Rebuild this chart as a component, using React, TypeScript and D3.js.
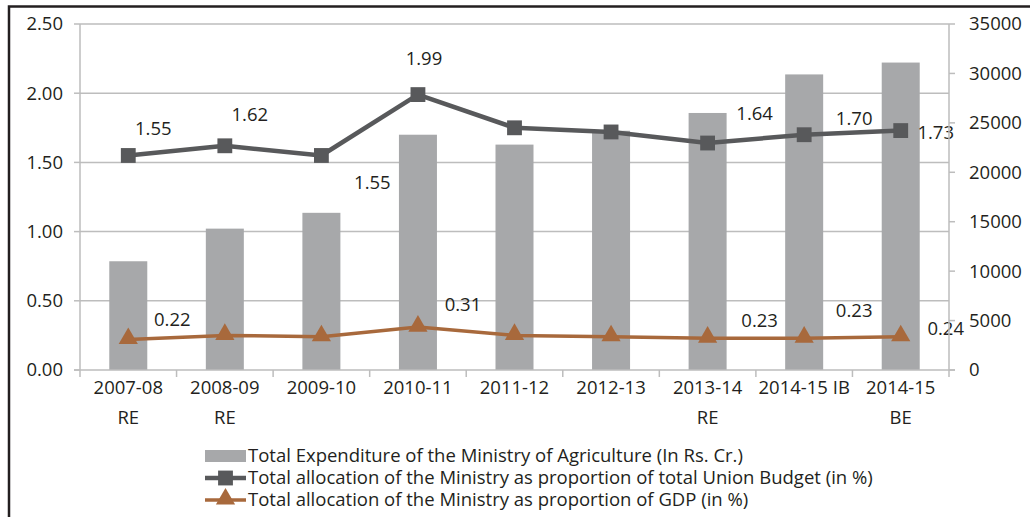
import React, { useEffect, useRef } from 'react';
import * as d3 from 'd3';

const categories = ['2007-08\nRE', '2008-09\nRE', '2009-10', '2010-11', '2011-12', '2012-13', '2013-14\nRE', '2014-15 IB', '2014-15\nBE'];
const expenditure = [11000, 14300, 15900, 23800, 22800, 24200, 26000, 29900, 31100];
const unionShare = [1.55, 1.62, 1.55, 1.99, 1.75, 1.72, 1.64, 1.70, 1.73];
const gdpShare = [0.22, 0.25, 0.24, 0.31, 0.25, 0.24, 0.23, 0.23, 0.24];
const leftTicks = [0, 0.5, 1, 1.5, 2, 2.5];
const rightTicks = [0, 5000, 10000, 15000, 20000, 25000, 30000, 35000];
const legendNames = [
  'Total Expenditure of the Ministry of Agriculture (In Rs. Cr.)',
  'Total allocation of the Ministry as proportion of total Union Budget (in %)',
  'Total allocation of the Ministry as proportion of GDP (in %)',
];

// data labels: index, offset from the point (dx, dy)
const unionLabels: [number, number, number][] = [[0, 25, -27], [1, 25, -31], [2, 51, 27], [3, 6, -36], [6, 47, -29], [7, 50, -16], [8, 35, 2]];
const gdpLabels: [number, number, number][] = [[0, 44, -20], [3, 45, -23], [6, 52, -18], [7, 50, -28], [8, 45, -8]];

const W = 1030, H = 517;
const FONT = '"Open Sans", sans-serif';
const FS = 18.5;
const BAR = '#a7a8aa', DARK = '#58595b', BROWN = '#a8693c', GRID = '#bdbdbd';

export default function App() {
  const ref = useRef<SVGSVGElement>(null);

  useEffect(() => {
    const svg = d3.select(ref.current);
    svg.selectAll('*').remove();
    const m = { left: 80, right: 949, top: 24, bottom: 370 };

    const x = d3.scaleBand<number>().domain(d3.range(categories.length)).range([m.left, m.right]);
    const yL = d3.scaleLinear().domain([0, 2.5]).range([m.bottom, m.top]);
    const yR = d3.scaleLinear().domain([0, 35000]).range([m.bottom, m.top]);
    const cx = (i: number) => x(i)! + x.bandwidth() / 2;

    svg.append('rect').attr('width', W).attr('height', H).attr('fill', '#fff');
    // frame
    svg.append('path').attr('d', `M9,${H} V6.5 H${W}`).attr('fill', 'none').attr('stroke', '#231f20').attr('stroke-width', 2.5);

    // gridlines
    svg.append('g').selectAll('line').data(leftTicks.slice(1)).join('line')
      .attr('x1', m.left).attr('x2', m.right).attr('y1', d => yL(d)).attr('y2', d => yL(d))
      .attr('stroke', GRID).attr('stroke-width', 1.5);

    // bars
    svg.append('g').selectAll('rect').data(expenditure).join('rect')
      .attr('x', (_, i) => cx(i) - 19).attr('width', 38)
      .attr('y', d => yR(d)).attr('height', d => yR(0) - yR(d)).attr('fill', BAR);

    // axes
    const ax = svg.append('g').attr('stroke', GRID).attr('stroke-width', 1.5);
    ax.append('line').attr('x1', m.left).attr('x2', m.left).attr('y1', m.top).attr('y2', m.bottom);
    ax.append('line').attr('x1', m.left - 6).attr('x2', m.right + 6).attr('y1', m.bottom).attr('y2', m.bottom);
    ax.selectAll('.tl').data(leftTicks).join('line').attr('x1', m.left - 6).attr('x2', m.left).attr('y1', d => yL(d)).attr('y2', d => yL(d));
    ax.selectAll('.tr').data(rightTicks).join('line').attr('class', 'tr').attr('x1', m.right).attr('x2', m.right + 6).attr('y1', d => yR(d)).attr('y2', d => yR(d));
    ax.selectAll('.tx').data(d3.range(categories.length + 1)).join('line').attr('class', 'tx')
      .attr('x1', i => m.left + i * x.step()).attr('x2', i => m.left + i * x.step()).attr('y1', m.bottom).attr('y2', m.bottom + 7);

    const txt = svg.append('g').attr('font-family', FONT).attr('font-size', FS).attr('fill', '#231f20');
    txt.selectAll('.yl').data(leftTicks).join('text').attr('x', 63).attr('y', d => yL(d)).attr('dy', '0.35em')
      .attr('text-anchor', 'end').text(d => d3.format('.2f')(d));
    txt.selectAll('.yr').data(rightTicks).join('text').attr('class', 'yr').attr('x', 969).attr('y', d => yR(d)).attr('dy', '0.35em')
      .text(d => String(d));
    categories.forEach((c, i) => {
      c.split('\n').forEach((line, j) => {
        txt.append('text').attr('x', cx(i)).attr('y', 388 + j * 30).attr('dy', '0.35em').attr('text-anchor', 'middle').text(line);
      });
    });

    // lines
    const drawLine = (vals: number[], color: string, width: number) =>
      svg.append('path').datum(vals)
        .attr('d', d3.line<number>().x((_, i) => cx(i)).y(d => yL(d)))
        .attr('fill', 'none').attr('stroke', color).attr('stroke-width', width).attr('stroke-linejoin', 'round');
    drawLine(unionShare, DARK, 4.5);
    drawLine(gdpShare, BROWN, 3.5);

    const sq = d3.symbol().type(d3.symbolSquare).size(220);
    const tri = d3.symbol().type(d3.symbolTriangle).size(160);
    svg.append('g').selectAll('path').data(unionShare).join('path')
      .attr('d', sq).attr('transform', (d, i) => `translate(${cx(i)},${yL(d)})`).attr('fill', DARK);
    svg.append('g').selectAll('path').data(gdpShare).join('path')
      .attr('d', tri).attr('transform', (d, i) => `translate(${cx(i)},${yL(d) - 1})`).attr('fill', BROWN);

    // data labels
    const lbl = svg.append('g').attr('font-family', FONT).attr('font-size', FS).attr('fill', '#231f20').attr('text-anchor', 'middle');
    unionLabels.forEach(([i, dx, dy]) => {
      lbl.append('text').attr('x', cx(i) + dx).attr('y', yL(unionShare[i]) + dy).attr('dy', '0.35em').text(d3.format('.2f')(unionShare[i]));
    });
    gdpLabels.forEach(([i, dx, dy]) => {
      lbl.append('text').attr('x', cx(i) + dx).attr('y', yL(gdpShare[i]) + dy).attr('dy', '0.35em').text(d3.format('.2f')(gdpShare[i]));
    });
    // right axis line drawn over labels
    svg.append('line').attr('x1', m.right).attr('x2', m.right).attr('y1', m.top).attr('y2', m.bottom).attr('stroke', GRID).attr('stroke-width', 1.5);

    // legend
    const lg = svg.append('g').attr('font-family', FONT).attr('font-size', FS).attr('fill', '#231f20');
    const rowY = [456, 478, 500];
    lg.append('rect').attr('x', 205).attr('y', rowY[0] - 6).attr('width', 41).attr('height', 12).attr('fill', BAR);
    lg.append('line').attr('x1', 205).attr('x2', 246).attr('y1', rowY[1]).attr('y2', rowY[1]).attr('stroke', DARK).attr('stroke-width', 4.5);
    lg.append('path').attr('d', sq).attr('transform', `translate(225.5,${rowY[1]})`).attr('fill', DARK);
    lg.append('line').attr('x1', 205).attr('x2', 246).attr('y1', rowY[2]).attr('y2', rowY[2]).attr('stroke', BROWN).attr('stroke-width', 3.5);
    lg.append('path').attr('d', tri).attr('transform', `translate(225.5,${rowY[2] - 1})`).attr('fill', BROWN);
    legendNames.forEach((n, i) => {
      lg.append('text').attr('x', 248).attr('y', rowY[i]).attr('dy', '0.35em').text(n);
    });
  }, []);

  return (
    <svg ref={ref} width={W} height={H} style={{ position: 'absolute', left: 0, top: 0, display: 'block' }} />
  );
}
